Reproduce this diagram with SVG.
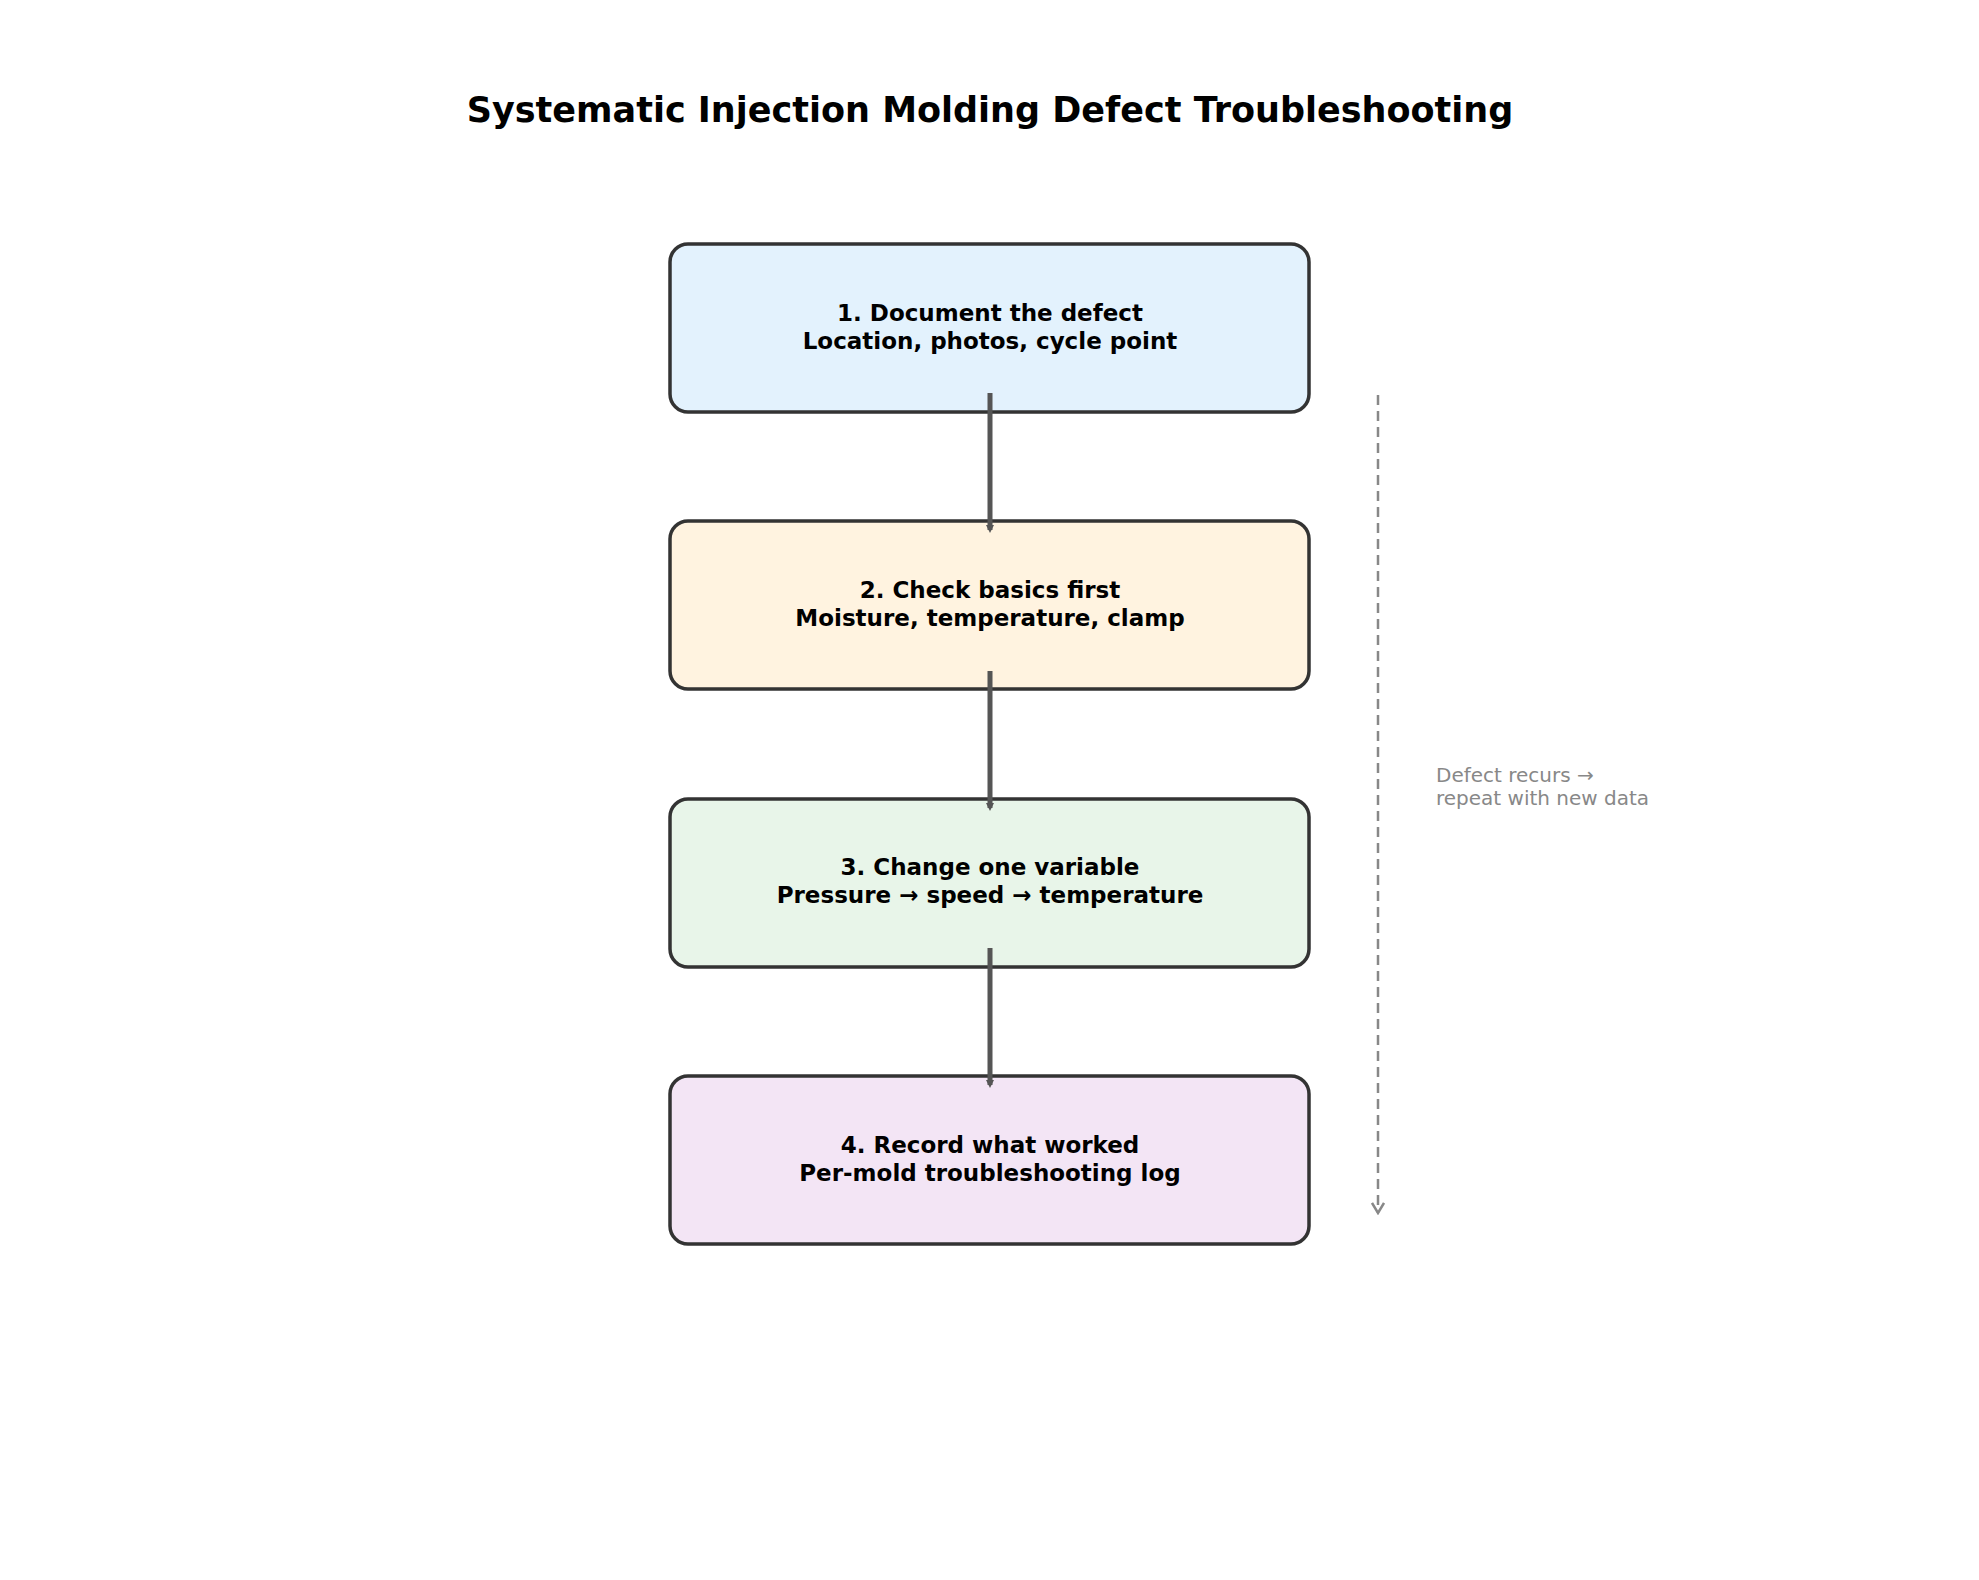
<svg xmlns="http://www.w3.org/2000/svg" width="1979" height="1580" viewBox="0 0 1979 1580">
<style>
text{font-family:"DejaVu Sans",sans-serif}
.t{font-size:35px;font-weight:bold;fill:#000}
.n{font-size:23px;font-weight:bold;fill:#000;text-anchor:middle}
.box{stroke:#333;stroke-width:3.5}
.a{stroke:#555;stroke-width:5;fill:none}
.d{stroke:#888;stroke-width:2.5;fill:none;stroke-dasharray:10,6}
.l{font-size:20px;fill:#888}
</style>
<defs>
<marker id="ah" markerWidth="8" markerHeight="8" refX="5" refY="4" orient="auto" markerUnits="userSpaceOnUse"><path d="M0,0 L8,4 L0,8 z" fill="#555" transform="scale(1)"/></marker>
<marker id="dh" markerWidth="14" markerHeight="14" refX="12" refY="7" orient="auto" markerUnits="userSpaceOnUse"><path d="M2,1 L12,7 L2,13" fill="none" stroke="#888" stroke-width="2.5"/></marker>
</defs>
<rect width="1979" height="1580" fill="#fff"/>
<text class="t" x="990" y="122" text-anchor="middle">Systematic Injection Molding Defect Troubleshooting</text>
<g id="node1"><rect class="box" x="670" y="244" width="639" height="168" rx="18" fill="#e3f2fd"/><text class="n" x="990" y="321">1. Document the defect</text><text class="n" x="990" y="349">Location, photos, cycle point</text></g>
<g id="node2"><rect class="box" x="670" y="521" width="639" height="168" rx="18" fill="#fff3e0"/><text class="n" x="990" y="598">2. Check basics first</text><text class="n" x="990" y="626">Moisture, temperature, clamp</text></g>
<g id="node3"><rect class="box" x="670" y="799" width="639" height="168" rx="18" fill="#e8f5e9"/><text class="n" x="990" y="875">3. Change one variable</text><text class="n" x="990" y="903">Pressure → speed → temperature</text></g>
<g id="node4"><rect class="box" x="670" y="1076" width="639" height="168" rx="18" fill="#f3e5f5"/><text class="n" x="990" y="1153">4. Record what worked</text><text class="n" x="990" y="1181">Per-mold troubleshooting log</text></g>
<g id="connectors">
<path class="a" d="M990,393 V530" marker-end="url(#ah)"/>
<path class="a" d="M990,671 V808" marker-end="url(#ah)"/>
<path class="a" d="M990,948 V1085" marker-end="url(#ah)"/>
<path class="d" d="M1378,395 V1213" marker-end="url(#dh)"/>
<text class="l" x="1436" y="782">Defect recurs →</text>
<text class="l" x="1436" y="805">repeat with new data</text>
</g>
</svg>
